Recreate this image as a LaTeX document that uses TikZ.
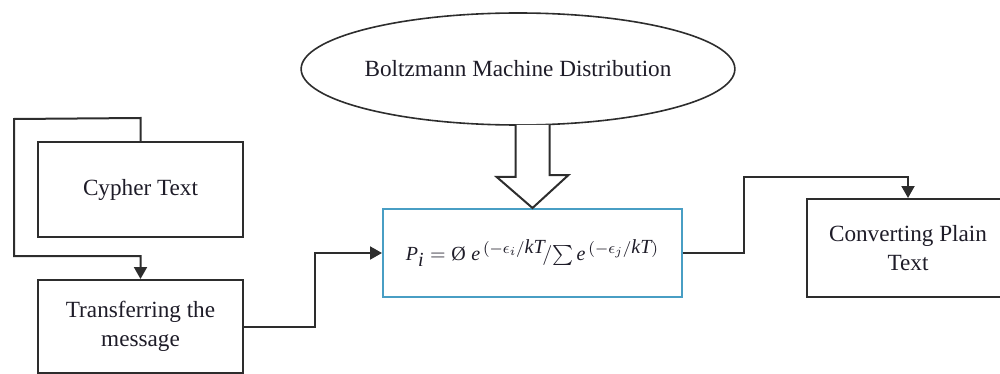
\documentclass[tikz,border=0pt]{standalone}
\usepackage{fontspec}
\setmainfont{Liberation Serif}
\usetikzlibrary{shapes.geometric,arrows.meta,calc}
\DeclareMathSizes{10}{10}{7.6}{6.2}
\definecolor{inkline}{RGB}{45,45,45}
\definecolor{inktext}{RGB}{30,28,40}
\definecolor{formulablue}{RGB}{72,158,196}
\tikzset{
  box/.style={draw=inkline, line width=1pt, fill=white, rectangle, inner sep=0pt,
    align=center, text=inktext, font=\fontsize{11.6}{14.5}\selectfont},
  formulabox/.style={box, draw=formulablue, font=\fontsize{10}{12}\selectfont},
  oval/.style={draw=inkline, line width=0.8pt, ellipse, inner sep=0pt,
    text=inktext, font=\fontsize{11.6}{14.5}\selectfont},
  flow/.style={draw=inkline, line width=1pt, -{Triangle[length=6pt,width=6.5pt]}},
  hollow/.style={draw=inkline, line width=1pt, fill=white, line join=miter}
}
\begin{document}
\begin{tikzpicture}[x=0.5pt, y=-0.5pt]
\path[use as bounding box, clip] (0,0) rectangle (1000,374);

% process boxes
\node[box, minimum width=102.5pt, minimum height=47.5pt] (cy) at (140.5,189.5) {Cypher Text};
\node[box, minimum width=102.5pt, minimum height=46.5pt] (tr) at (140.5,326.5) {Transferring the\\message};
\node[formulabox, minimum width=149.5pt, minimum height=44pt] (fm) at (532.5,253)
  {$\textit{P}_{\textit{i}} = \mbox{Ø}\; \textit{e}^{\,(-\epsilon_i/\textit{kT}}\!/{\textstyle\sum}\, \textit{e}^{\,(-\epsilon_j/\textit{kT})}$};
\node[box, minimum width=101pt, minimum height=49pt] (cv) at (908,248) {Converting Plain\\Text};
\node[oval, minimum width=188pt, minimum height=56pt] (bm) at (518,69) {Boltzmann Machine Distribution};

% loop from the cypher box back down into the transfer box
\coordinate (lp1) at ($(cy.north)+(0,-23)$);
\coordinate (lp2) at (14,119);
\coordinate (lp3) at (14,256);
\draw[flow] (cy.north) -- (lp1) -- (lp2) -- (lp3) -| (tr.north);

% transfer box into the formula box
\coordinate (k1) at (315,326.5);
\draw[flow] (tr.east) -- (k1) |- (fm.west);

% formula box into the plain text box
\coordinate (k2) at (744,177);
\draw[flow] (fm.east) -| (k2) -| (cv.north);

% hollow block arrow from the distribution down to the formula
\coordinate (ha) at ($(bm.south -| fm.north)+(-17,-1)$);
\coordinate (hb) at ($(bm.south -| fm.north)+(17,-1)$);
\draw[hollow] (ha) -- ++(0,52) -- ++(-19,0) -- (fm.north) -- ++(36,-33) -- ++(-19,0) -- (hb);
\end{tikzpicture}
\end{document}
